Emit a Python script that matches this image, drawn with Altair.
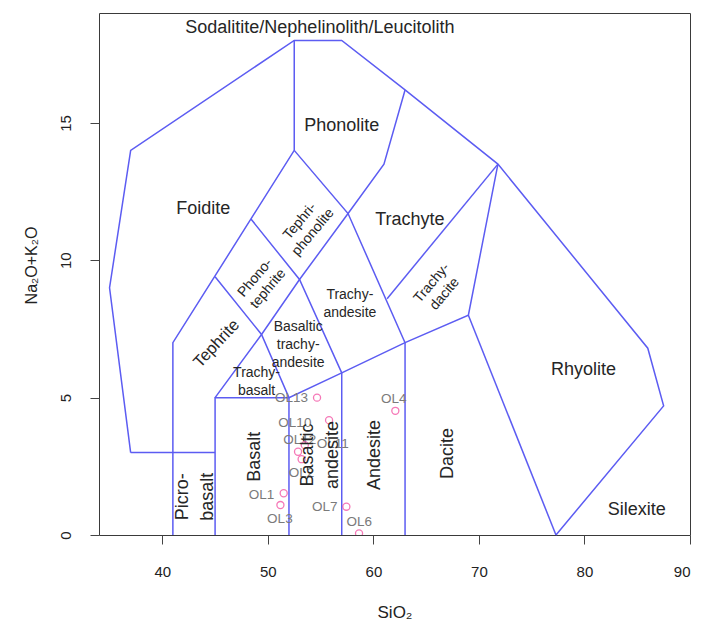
import altair as alt
import pandas as pd

# ---------------- data ----------------
# TAS field boundaries (polylines), SiO2 vs Na2O+K2O
boundary_si = [
    [37, 35, 37, 52.5, 57, 63, 71.8, 86, 87.5, 77.3],
    [37, 45],
    [41, 41, 52.5, 52.5],
    [45, 45, 52, 57, 63, 69, 71.8],
    [52, 52],
    [57, 57],
    [63, 63],
    [69, 77.3],
    [45, 49.4, 53, 57.6, 61, 63],
    [45, 49.4, 52],
    [48.4, 53, 57],
    [52.5, 57.6, 63],
    [71.8, 61.3],
]
boundary_alk = [
    [3, 9, 14, 18, 18, 16.2, 13.5, 6.8, 4.7, 0],
    [3, 3],
    [0, 7, 14, 18],
    [0, 5, 5, 5.9, 7, 8, 13.5],
    [0, 5],
    [0, 5.9],
    [0, 7],
    [8, 0],
    [5, 7.3, 9.3, 11.7, 13.5, 16.2],
    [9.4, 7.3, 5],
    [11.5, 9.3, 5.9],
    [14, 11.7, 7],
    [13.5, 8.6],
]

# samples
sample_names = ["OL13", "OL4", "OL1", "OL3", "OL7", "OL6", "OL10", "OL12", "OL2", "OL11"]
sample_si = [54.66, 62.08, 51.5, 51.19, 57.44, 58.64, 55.8, 52.86, 53.2, 53.5]
sample_alk = [5.0, 4.52, 1.52, 1.09, 1.03, 0.06, 4.18, 3.03, 2.76, 3.27]
label_si = [52.25, 61.94, 49.4, 51.14, 55.4, 58.65, 52.56, 53.03, 53.2, 56.16]
label_alk = [4.97, 4.95, 1.46, 0.58, 1.03, 0.48, 4.07, 3.46, 2.24, 3.31]

# field names (position of the first text line)
big_names = ["Sodalitite/Nephelinolith/Leucitolith", "Phonolite", "Foidite",
              "Trachyte", "Rhyolite", "Silexite"]
big_si = [54.93, 57.0, 43.87, 63.46, 79.9, 84.95]
big_alk = [18.44, 14.9, 11.88, 11.46, 6.0, 0.91]

vert_names = ["Dacite", "Andesite", "Basaltic\nandesite", "Basalt", "Picro-\nbasalt"]
vert_si = [67.1, 60.14, 53.82, 48.77, 41.97]
vert_alk = [2.97, 2.91, 2.91, 2.85, 1.39]

small_names = ["Trachy-\nandesite", "Basaltic\ntrachy-\nandesite", "Trachy-\nbasalt"]
small_si = [57.77, 52.87, 48.93]
small_alk = [8.73, 7.58, 5.88]

tilt_names = ["Tephri-\nphonolite", "Phono-\ntephrite", "Trachy-\ndacite"]
tilt_si = [53.05, 48.79, 65.53]
tilt_alk = [11.42, 9.36, 9.17]

teph_names = ["Tephrite"]
teph_si = [45.14]
teph_alk = [6.97]

# ---------------- tables ----------------
rows = []
for k, (xs, ys) in enumerate(zip(boundary_si, boundary_alk)):
    for i, (a, b) in enumerate(zip(xs, ys)):
        rows.append({"seg": k, "idx": i, "si": a, "alk": b})
lines_df = pd.DataFrame(rows)
pts_df = pd.DataFrame({"name": sample_names, "si": sample_si, "alk": sample_alk})
lab_df = pd.DataFrame({"name": sample_names, "si": label_si, "alk": label_alk})
big_df = pd.DataFrame({"name": big_names, "si": big_si, "alk": big_alk})
vert_df = pd.DataFrame({"name": vert_names, "si": vert_si, "alk": vert_alk})
small_df = pd.DataFrame({"name": small_names, "si": small_si, "alk": small_alk})
tilt_df = pd.DataFrame({"name": tilt_names, "si": tilt_si, "alk": tilt_alk})
teph_df = pd.DataFrame({"name": teph_names, "si": teph_si, "alk": teph_alk})

FONT = "Liberation Sans, Arial, sans-serif"
xscale = alt.Scale(domain=[34, 90], nice=False, zero=False)
yscale = alt.Scale(domain=[0, 19], nice=False, zero=False)

x_axis = alt.Axis(values=[40, 50, 60, 70, 80, 90], title="SiO₂", grid=False, domain=False,
                  tickSize=9, tickColor="#444", labelPadding=20, labelFontSize=15,
                  labelFont=FONT, labelColor="#222", titleFont=FONT, titleFontSize=17,
                  titleFontWeight="normal", titleColor="#222", titleX=295.5, titleY=77,
                  titleBaseline="middle", titleAlign="center")
y_axis = alt.Axis(values=[0, 5, 10, 15], title="Na₂O+K₂O", grid=False, domain=False,
                  tickSize=9, tickColor="#444", labelPadding=17, labelFontSize=15,
                  labelAngle=270, labelAlign="center", labelBaseline="bottom",
                  labelFont=FONT, labelColor="#222", titleFont=FONT, titleFontSize=16,
                  titleFontWeight="normal", titleColor="#222", titleAngle=270,
                  titleX=-60, titleY=252, titleBaseline="bottom", titleAlign="center")

X = alt.X("si:Q", scale=xscale, axis=x_axis)
Y = alt.Y("alk:Q", scale=yscale, axis=y_axis)

LINE_COLOR = "#5c5cf2"

lines = alt.Chart(lines_df).mark_line(color=LINE_COLOR, strokeWidth=1.5).encode(
    x=X, y=Y, detail="seg:N", order=alt.Order("idx:Q"),
)

def txt(df, size, angle=0, line_height=None, color="#262626"):
    kw = dict(font=FONT, fontSize=size, color=color, align="center", baseline="middle",
              angle=angle, lineBreak="\n")
    if line_height:
        kw["lineHeight"] = line_height
    return alt.Chart(df).mark_text(**kw).encode(x=X, y=Y, text="name:N")

points = alt.Chart(pts_df).mark_point(shape="circle", filled=False, size=50,
                                      color="#f2409a", strokeWidth=1.3, clip=True).encode(
    x=X, y=Y,
)

pt_labels = txt(lab_df, 13.5, color="#7a7a7a")

chart = alt.layer(
    lines,
    pt_labels,
    points,
    txt(big_df, 18),
    txt(vert_df, 18, angle=270, line_height=25),
    txt(small_df, 14, line_height=18),
    txt(tilt_df, 14, angle=310, line_height=17),
    txt(teph_df, 16.5, angle=313),
).properties(
    width=591,
    height=522,
    autosize=alt.AutoSizeParams(type="none"),
    padding={"left": 91, "top": 5, "right": 4, "bottom": 85},
).configure_view(stroke="#3a3a3a", strokeWidth=1)

chart.save("out.html", embed_options={"renderer": "svg", "actions": False})
